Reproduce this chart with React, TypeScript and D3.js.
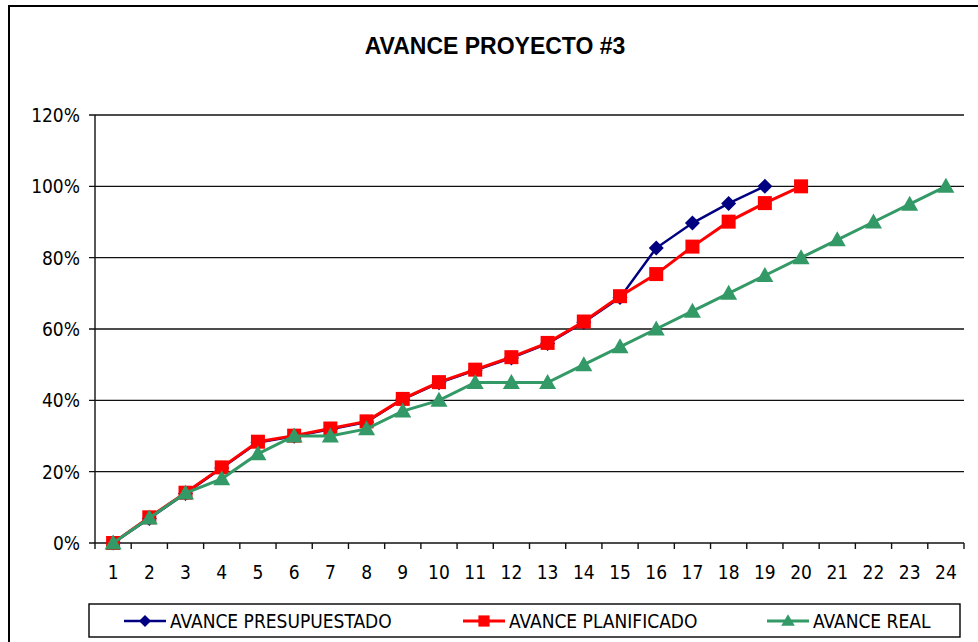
import React from "react";
import * as d3 from "d3";

const categories = Array.from({ length: 24 }, (_, i) => String(i + 1));
const yTicks = [0, 0.2, 0.4, 0.6, 0.8, 1.0, 1.2];

const presupuestado = [0, 0.069, 0.139, 0.21, 0.282, 0.299, 0.319, 0.339, 0.403, 0.449, 0.484, 0.519, 0.559, 0.619, 0.688, 0.827, 0.897, 0.952, 1.0];
const planificado = [0, 0.072, 0.141, 0.212, 0.284, 0.301, 0.321, 0.341, 0.404, 0.451, 0.486, 0.521, 0.561, 0.621, 0.692, 0.754, 0.831, 0.901, 0.953, 1.0];
const real = [0, 0.07, 0.14, 0.18, 0.25, 0.30, 0.30, 0.32, 0.37, 0.40, 0.45, 0.45, 0.45, 0.50, 0.55, 0.60, 0.65, 0.70, 0.75, 0.80, 0.85, 0.90, 0.95, 1.0];

const seriesNames = ["AVANCE PRESUPUESTADO", "AVANCE PLANIFICADO", "AVANCE REAL"];
const seriesColors = ["#000080", "#FF0000", "#339966"];

const W = 978;
const H = 642;
const M = { left: 95, right: 964, top: 115, bottom: 543 };
const FONT = "'DejaVu Sans Condensed', 'DejaVu Sans', sans-serif";

function Marker({ kind, x, y, color, scale = 1 }: { kind: number; x: number; y: number; color: string; scale?: number }) {
  if (kind === 0) {
    const s = 7.5 * scale;
    return <path d={`M${x},${y - s}L${x + s},${y}L${x},${y + s}L${x - s},${y}Z`} fill={color} />;
  }
  if (kind === 1) {
    const s = 7 * scale;
    return <rect x={x - s} y={y - s} width={2 * s} height={2 * s} fill={color} />;
  }
  const s = 8.5 * scale;
  return <path d={`M${x},${y - s}L${x + s},${y + s - 2}L${x - s},${y + s - 2}Z`} fill={color} />;
}

export default function App() {
  const x = d3.scaleBand<string>().domain(categories).range([M.left, M.right]);
  const y = d3.scaleLinear().domain([0, 1.2]).range([M.bottom, M.top]);
  const cx = (i: number) => (x(categories[i]) as number) + x.bandwidth() / 2;
  const line = d3
    .line<number>()
    .x((_, i) => cx(i))
    .y((d) => y(d));
  const data = [presupuestado, planificado, real];
  const widths = [2.5, 3, 3];
  const legendX = [124, 463, 767];

  return (
    <svg width={W} height={H} style={{ position: "absolute", left: 0, top: 0, background: "#fff" }}>
      <rect x={0} y={0} width={W} height={H} fill="#fff" />
      <rect x={9} y={6} width={W + 20} height={H + 20} fill="none" stroke="#000" strokeWidth={2} />
      <text x={495} y={54} textAnchor="middle" fontFamily="'Liberation Sans', Arial, sans-serif" fontWeight="bold" fontSize={23}>
        AVANCE PROYECTO #3
      </text>
      {yTicks.map((t) => (
        <g key={t}>
          <line x1={M.left - 6} x2={M.right} y1={y(t)} y2={y(t)} stroke="#111" strokeWidth={1.4} />
          <text x={80} y={y(t) + 7} textAnchor="end" fontFamily={FONT} fontSize={19}>
            {Math.round(t * 100)}%
          </text>
        </g>
      ))}
      <line x1={M.left} x2={M.left} y1={M.top} y2={M.bottom} stroke="#111" strokeWidth={1.4} />
      {d3.range(categories.length + 1).map((k) => {
        const xx = M.left + k * x.bandwidth();
        return <line key={k} x1={xx} x2={xx} y1={M.bottom} y2={M.bottom + 6} stroke="#111" strokeWidth={1.4} />;
      })}
      {categories.map((c, i) => (
        <text key={c} x={cx(i)} y={579} textAnchor="middle" fontFamily={FONT} fontSize={19}>
          {c}
        </text>
      ))}
      {data.map((d, si) => (
        <g key={si}>
          <path d={line(d) || ""} fill="none" stroke={seriesColors[si]} strokeWidth={widths[si]} />
          {d.map((v, i) => (
            <Marker key={i} kind={si} x={cx(i)} y={y(v)} color={seriesColors[si]} />
          ))}
        </g>
      ))}
      <rect x={89} y={604} width={871} height={33} fill="#fff" stroke="#000" strokeWidth={1.4} />
      {seriesNames.map((n, si) => (
        <g key={n}>
          <line x1={legendX[si]} x2={legendX[si] + 42} y1={621} y2={621} stroke={seriesColors[si]} strokeWidth={widths[si]} />
          <Marker kind={si} x={legendX[si] + 21} y={621} color={seriesColors[si]} scale={0.8} />
          <text x={legendX[si] + 46} y={628} fontFamily={FONT} fontSize={19}>
            {n}
          </text>
        </g>
      ))}
    </svg>
  );
}
